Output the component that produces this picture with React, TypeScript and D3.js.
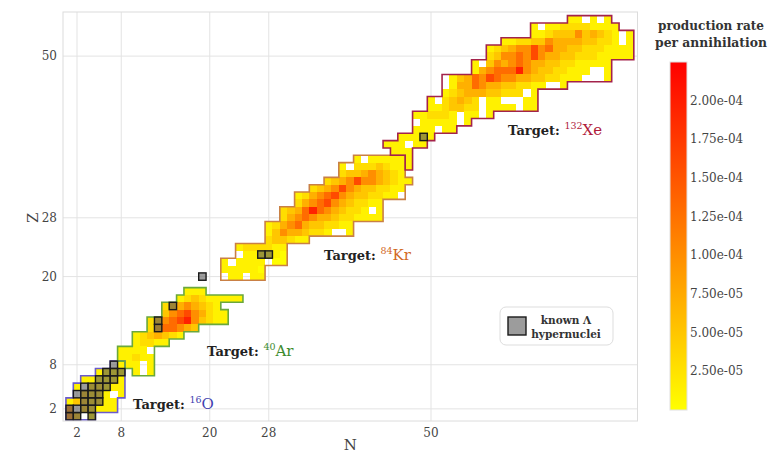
import React from 'react';
import * as d3 from 'd3';

const W = 769, H = 455;
const FONT = "'DejaVu Serif', serif";

// axis ticks
const xTicks = [2, 8, 20, 28, 50];
const yTicks = [2, 8, 20, 28, 50];
const cbTickValues = [2.5e-5, 5e-5, 7.5e-5, 1e-4, 1.25e-4, 1.5e-4, 1.75e-4, 2e-4];
const cbTickLabels = ['2.50e-05', '5.00e-05', '7.50e-05', '1.00e-04', '1.25e-04', '1.50e-04', '1.75e-04', '2.00e-04'];

// production-rate level per character ('-' = inside region, no production)
const levelKeys = ['1', '2', '3', '4', '5', '6', '7', '8', '9'];
const levelVals = [0.2e-5, 1.2e-5, 3e-5, 5e-5, 7e-5, 1e-4, 1.3e-4, 1.6e-4, 1.95e-4];

// rows: [Z, first N, cells]
const xeRows: [number, number, string][] = [
  [55, 69, '22-2-2'],
  [54, 64, '2-2233332222'],
  [53, 64, '223444645432-2'],
  [52, 60, '2233446555544332-2'],
  [51, 58, '23456686755443332222'],
  [50, 58, '34667686554433322222'],
  [49, 56, '2-46567655443322222'],
  [48, 56, '2567779654433222--2'],
  [47, 52, '-245768766554433222---2'],
  [46, 52, '-2557655443322--2'],
  [45, 52, '23455544333-2'],
  [44, 50, '2-34543-22---22'],
  [43, 50, '2234433-2222-22'],
  [42, 48, '223332-22-2'],
  [41, 48, '-22222-2'],
  [40, 48, '222-22'],
  [39, 46, '22222'],
  [38, 44, '222-22'],
  [37, 45, '222'],
  [36, 47, '2'],
  [35, 47, '2'],
];
const krRows: [number, number, string][] = [
  [36, 40, '2-22222'],
  [35, 38, '2-3334322'],
  [34, 38, '344565432'],
  [33, 36, '345686654322'],
  [32, 34, '3456865443322'],
  [31, 32, '23567865443322-'],
  [30, 32, '356786543322'],
  [29, 30, '345797654332-2'],
  [28, 30, '35676554332222'],
  [27, 28, '235675443322'],
  [26, 28, '246554332--2'],
  [25, 28, '344322'],
  [24, 24, '2333322'],
  [23, 24, '-222221'],
  [22, 22, '2-2222-11'],
  [21, 22, '222221'],
  [20, 22, '-22-22'],
];
const arRows: [number, number, string][] = [
  [18, 17, '222'],
  [17, 16, '234322222'],
  [16, 14, '34565432'],
  [15, 14, '467865322'],
  [14, 12, '34678964322'],
  [13, 12, '3577654'],
  [12, 10, '2345432'],
  [11, 10, '23322'],
  [10, 8, '2222-'],
  [9, 8, '22322'],
  [8, 9, '22-2'],
  [7, 10, '2-2'],
];
const oRows: [number, number, string][] = [
  [8, 7, '-2'],
  [7, 5, '2222'],
  [6, 3, '222222'],
  [5, 2, '2-33222'],
  [4, 2, '-4332-2'],
  [3, 1, '2443322'],
  [2, 1, '6-43222'],
  [1, 1, '64-2'],
];

// known Λ hypernuclei (core N, Z)
const hyperN = [1, 2, 4, 1, 2, 3, 4, 3, 4, 5, 2, 3, 4, 5, 3, 4, 5, 6, 5, 6, 7, 6, 7, 8, 7, 13, 13, 15, 19, 27, 28, 49];
const hyperZ = [1, 1, 1, 2, 2, 2, 2, 3, 3, 3, 4, 4, 4, 4, 5, 5, 5, 5, 6, 6, 6, 7, 7, 7, 8, 13, 14, 16, 20, 23, 23, 39];

const regions = [
  { rows: oRows, line: '#6a5acd', label: '#3f3fb0', mass: '16', el: 'O', lx: 133, ly: 409 },
  { rows: arRows, line: '#6aa83c', label: '#3d8b2e', mass: '40', el: 'Ar', lx: 207, ly: 356 },
  { rows: krRows, line: '#c98045', label: '#d2691e', mass: '84', el: 'Kr', lx: 324, ly: 260 },
  { rows: xeRows, line: '#a3234b', label: '#b01c3c', mass: '132', el: 'Xe', lx: 508, ly: 135 },
];

export default function App() {
  const left = 63, right = 637.5, top = 12, bottom = 421;
  const xs = d3.scaleLinear().domain([0.1, 78]).range([left, right]);
  const ys = d3.scaleLinear().domain([0.35, 56]).range([bottom, top]);
  const color = d3.scaleLinear<string>().domain([0, 2.25e-4]).range(['#ffff00', '#ff0000']).interpolate(d3.interpolateRgb);
  const cbY = d3.scaleLinear().domain([0, 2.25e-4]).range([410, 62]);
  const lv = new Map(levelKeys.map((k, i) => [k, levelVals[i]]));

  const cells: { n: number; z: number; v: number }[] = [];
  const outlines: { d: string; c: string }[] = [];
  regions.forEach((r) => {
    const set = new Set<string>();
    r.rows.forEach(([z, n0, s]) => {
      for (let i = 0; i < s.length; i++) {
        const ch = s[i];
        if (ch === '.') continue;
        const n = n0 + i;
        set.add(n + ',' + z);
        if (ch !== '-') cells.push({ n, z, v: lv.get(ch) as number });
      }
    });
    let d = '';
    set.forEach((k) => {
      const [n, z] = k.split(',').map(Number);
      const x0 = xs(n - 0.5), x1 = xs(n + 0.5), y0 = ys(z + 0.5), y1 = ys(z - 0.5);
      if (!set.has(n + ',' + (z + 1))) d += `M${x0},${y0}L${x1},${y0}`;
      if (!set.has(n + ',' + (z - 1))) d += `M${x0},${y1}L${x1},${y1}`;
      if (!set.has(n - 1 + ',' + z)) d += `M${x0},${y0}L${x0},${y1}`;
      if (!set.has(n + 1 + ',' + z)) d += `M${x1},${y0}L${x1},${y1}`;
    });
    outlines.push({ d, c: r.line });
  });

  return (
    <svg width={W} height={H} style={{ position: 'absolute', left: 0, top: 0, background: '#fff' }} fontFamily={FONT}>
      <defs>
        <linearGradient id="cbg" x1="0" y1="1" x2="0" y2="0">
          <stop offset="0%" stopColor="#ffff00" />
          <stop offset="100%" stopColor="#ff0000" />
        </linearGradient>
      </defs>
      <rect x={left} y={top} width={right - left} height={bottom - top} fill="#fff" />
      {xTicks.map((t) => (
        <line key={'gx' + t} x1={xs(t)} x2={xs(t)} y1={top} y2={bottom} stroke="#e3e3e3" strokeWidth={1} />
      ))}
      {yTicks.map((t) => (
        <line key={'gy' + t} x1={left} x2={right} y1={ys(t)} y2={ys(t)} stroke="#e3e3e3" strokeWidth={1} />
      ))}
      <g shapeRendering="crispEdges">
        {cells.map((c, i) => (
          <rect key={i} x={xs(c.n - 0.5)} y={ys(c.z + 0.5)} width={xs(c.n + 0.5) - xs(c.n - 0.5) + 0.3}
            height={ys(c.z - 0.5) - ys(c.z + 0.5) + 0.3} fill={color(c.v)} />
        ))}
      </g>
      {outlines.map((o, i) => (
        <path key={i} d={o.d} stroke={o.c} strokeWidth={1.6} fill="none" strokeLinecap="square" />
      ))}
      {hyperN.map((n, i) => (
        <rect key={'h' + i} x={xs(n - 0.5)} y={ys(hyperZ[i] + 0.5)} width={xs(n + 0.5) - xs(n - 0.5)}
          height={ys(hyperZ[i] - 0.5) - ys(hyperZ[i] + 0.5)} fill="#5a5a5a" fillOpacity={0.6} stroke="#1a1a1a" strokeWidth={1.4} />
      ))}
      {regions.map((r, i) => (
        <text key={'l' + i} x={r.lx} y={r.ly} fontSize={13}>
          <tspan fontWeight="bold" fill="#222">Target: </tspan>
          <tspan fill={r.label} fontSize={9.5} dy={-6}>{r.mass}</tspan>
          <tspan fill={r.label} fontSize={15} dy={6}>{r.el}</tspan>
        </text>
      ))}
      <rect x={left} y={top} width={right - left} height={bottom - top} fill="none" stroke="#dcdcdc" strokeWidth={1} />
      {xTicks.map((t) => (
        <text key={'tx' + t} x={xs(t)} y={437} textAnchor="middle" fontSize={12} fill="#444">{t}</text>
      ))}
      {yTicks.map((t) => (
        <text key={'ty' + t} x={57} y={ys(t) + 4} textAnchor="end" fontSize={12} fill="#444">{t}</text>
      ))}
      <text x={(left + right) / 2} y={450} textAnchor="middle" fontSize={15} fill="#444">N</text>
      <text transform={`translate(38,${ys(28)}) rotate(-90)`} textAnchor="middle" fontSize={15} fill="#444">Z</text>
      {/* legend */}
      <rect x={500} y={307} width={113} height={38} rx={6} fill="#fff" stroke="#dddddd" strokeWidth={1} />
      <rect x={508} y={317} width={18} height={18} fill="#5a5a5a" fillOpacity={0.6} stroke="#1a1a1a" strokeWidth={1.4} />
      <text x={566} y={324} textAnchor="middle" fontSize={10.5} fontWeight="bold" fill="#333">known Λ</text>
      <text x={566} y={338} textAnchor="middle" fontSize={10.5} fontWeight="bold" fill="#333">hypernuclei</text>
      {/* colorbar */}
      <text x={711} y={30} textAnchor="middle" fontSize={12.5} fontWeight="bold" fill="#333" textLength={106} lengthAdjust="spacingAndGlyphs">production rate</text>
      <text x={711} y={47} textAnchor="middle" fontSize={12.5} fontWeight="bold" fill="#333" textLength={112} lengthAdjust="spacingAndGlyphs">per annihilation</text>
      <rect x={670} y={cbY(2.25e-4)} width={17} height={cbY(0) - cbY(2.25e-4)} fill="url(#cbg)" stroke="#e0e0e0" strokeWidth={1} />
      {cbTickValues.map((v, i) => (
        <text key={'cb' + i} x={690} y={cbY(v) + 4} fontSize={12} fill="#444">{cbTickLabels[i]}</text>
      ))}
    </svg>
  );
}
